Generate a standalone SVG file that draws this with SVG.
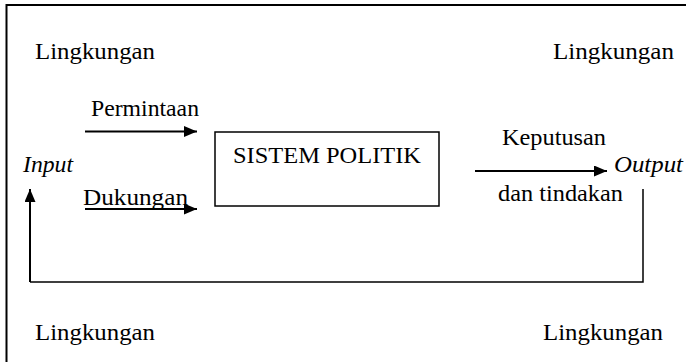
<svg xmlns="http://www.w3.org/2000/svg" width="686" height="362" viewBox="0 0 686 362">
<style>
text{font-family:"Liberation Serif","Times New Roman",serif;font-size:23px;fill:#000}
.it{font-style:italic}
.ln{stroke:#000;fill:none}
</style>
<defs>
<marker id="ah" viewBox="0 0 13 11" refX="13" refY="5.5" markerWidth="13" markerHeight="11" markerUnits="userSpaceOnUse" orient="auto">
<path d="M0,0 L13,5.5 L0,11 Z" fill="#000"/>
</marker>
</defs>
<rect width="686" height="362" fill="#fff"/>
<g id="frame">
<path class="ln" stroke-width="2" stroke="#333" d="M6.5,362 V5 H686"/>
</g>
<g id="env-labels">
<text x="35" y="59" textLength="120" lengthAdjust="spacingAndGlyphs">Lingkungan</text>
<text x="553" y="59" textLength="121" lengthAdjust="spacingAndGlyphs">Lingkungan</text>
<text x="35" y="340" textLength="120" lengthAdjust="spacingAndGlyphs">Lingkungan</text>
<text x="543" y="340" textLength="120" lengthAdjust="spacingAndGlyphs">Lingkungan</text>
</g>
<g id="sistem-politik">
<rect x="215" y="132" width="224" height="74" fill="#fff" stroke="#000" stroke-width="1.5"/>
<text x="233" y="163" textLength="188" lengthAdjust="spacingAndGlyphs">SISTEM POLITIK</text>
</g>
<g id="input">
<text class="it" x="23" y="172" textLength="50" lengthAdjust="spacingAndGlyphs">Input</text>
</g>
<g id="output">
<text class="it" x="614" y="172" textLength="69" lengthAdjust="spacingAndGlyphs">Output</text>
</g>
<g id="labels">
<text x="91" y="116" textLength="108" lengthAdjust="spacingAndGlyphs">Permintaan</text>
<text x="83" y="205" textLength="105" lengthAdjust="spacingAndGlyphs">Dukungan</text>
<text x="502" y="145" textLength="104" lengthAdjust="spacingAndGlyphs">Keputusan</text>
<text x="498" y="201" textLength="125" lengthAdjust="spacingAndGlyphs">dan tindakan</text>
</g>
<g id="connectors">
<line class="ln" stroke-width="2" x1="85" y1="131.5" x2="197" y2="131.5" marker-end="url(#ah)"/>
<line class="ln" stroke-width="2" x1="85" y1="209" x2="197" y2="209" marker-end="url(#ah)"/>
<line class="ln" stroke-width="2" x1="475" y1="171" x2="607" y2="171" marker-end="url(#ah)"/>
<path class="ln" stroke-width="1.5" d="M643,189 V282 H30"/>
<line class="ln" stroke-width="2" x1="30" y1="282" x2="30" y2="189" marker-end="url(#ah)"/>
</g>
</svg>
